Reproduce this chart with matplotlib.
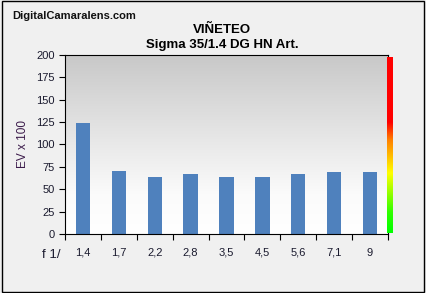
import numpy as np
import matplotlib
matplotlib.use('Agg')
import matplotlib.pyplot as plt
from matplotlib.colors import LinearSegmentedColormap

apertures = ['1,4', '1,7', '2,2', '2,8', '3,5', '4,5', '5,6', '7,1', '9']
vignetting = [124, 70, 64, 67, 64, 64, 67, 69, 69]

plt.rcParams['font.family'] = ['Liberation Sans', 'DejaVu Sans']

fig = plt.figure(figsize=(4.26, 2.93), dpi=100, facecolor='#f0f0f0')
# outer border
fig.patches.append(plt.Rectangle((0.004, 0.005), 0.992, 0.99, transform=fig.transFigure,
                                 fill=False, edgecolor='black', linewidth=1.0))

ax = fig.add_axes([0.1526, 0.2014, 0.758, 0.611])
x = np.arange(len(apertures))
ax.set_xlim(-0.5, len(apertures) - 0.5)
ax.set_ylim(0, 200)

# gray-to-white gradient background
bg = LinearSegmentedColormap.from_list('bg', [(0, '#ffffff'), (0.22, '#fbfbfb'), (1, '#c8c8c8')])
grad = np.linspace(0, 1, 256).reshape(-1, 1)
ax.imshow(grad, cmap=bg, aspect='auto', origin='lower',
          extent=(-0.5, len(apertures) - 0.5, 0, 200), zorder=0)

ax.bar(x, vignetting, width=0.4, color='#4f81bd', zorder=2)

ax.set_yticks(np.arange(0, 201, 25))
ax.set_xticks(x)
ax.set_xticklabels(apertures)
ax.set_xticks(np.arange(-0.5, len(apertures), 1), minor=True)
ax.tick_params(axis='x', which='major', length=0, pad=10, labelsize=8, labelcolor='#1a1a2e')
ax.tick_params(axis='x', which='minor', length=4, direction='out', width=0.8)
ax.tick_params(axis='y', length=4, direction='out', width=0.8, labelsize=8, labelcolor='#1a1a2e')
for s in ax.spines.values():
    s.set_linewidth(0.8)
    s.set_color('black')

ax.set_ylabel('EV x 100', fontsize=8.5, color='#3b1a4a', labelpad=5)
ax.text(-0.015, -0.115, 'f 1/', transform=ax.transAxes, ha='right', va='center',
        fontsize=9.5, color='#1a1a2e')

# colour scale bar at the right edge
scale = LinearSegmentedColormap.from_list('scale', [(0, '#00ff00'), (0.12, '#33ff00'), (0.34, '#ffff00'),
                                                    (0.53, '#ff8000'), (0.63, '#ff0000'), (1, '#ff0000')])
cax = fig.add_axes([387 / 426, 1 - 233 / 293, 6 / 426, 176 / 293])
cax.imshow(grad, cmap=scale, aspect='auto', origin='lower')
cax.axis('off')

fig.text(12 / 426, 1 - 16 / 293, 'DigitalCamaralens.com', fontsize=8, fontweight='bold',
         ha='left', va='center', color='#111111')
fig.text(222 / 426, 1 - 30 / 293, 'VIÑETEO', fontsize=9.5, fontweight='bold', ha='center', va='center')
fig.text(222 / 426, 1 - 45 / 293, 'Sigma 35/1.4 DG HN Art.', fontsize=9.5, fontweight='bold',
         ha='center', va='center')

fig.savefig('out.png', dpi=100, facecolor=fig.get_facecolor())
